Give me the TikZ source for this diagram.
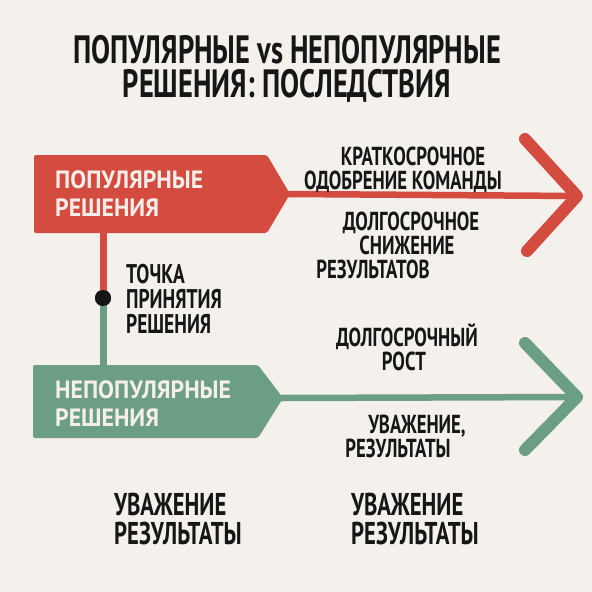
\documentclass[tikz,border=0pt]{standalone}
\usepackage{fontspec}
\setmainfont{PT Sans}
\newfontfamily\condfont[FakeStretch=0.72]{PT Sans}
\newfontfamily\boxfont[FakeStretch=0.95]{PT Sans}
\definecolor{bg}{HTML}{F4F0EB}
\definecolor{popred}{HTML}{D44B40}
\definecolor{unpgreen}{HTML}{6B9E83}
\definecolor{ink}{HTML}{161616}
\definecolor{boxtext}{HTML}{F6EEE9}
\tikzset{
  title/.style={font=\condfont\bfseries\fontsize{39.5}{32}\selectfont, text=ink, inner sep=0, anchor=base, text height=27pt, text depth=1pt},
  lbl/.style={font=\condfont\bfseries\fontsize{26}{24}\selectfont, text=ink, inner sep=0, anchor=base, text height=19pt, text depth=1.5pt},
  multi/.style={font=\condfont\bfseries\fontsize{#1}{#1}\selectfont, text=ink, inner sep=0, align=left, anchor=west},
  boxlbl/.style={font=\boxfont\bfseries\fontsize{25}{28}\selectfont, text=boxtext, align=left, anchor=west, inner sep=0},
  stem/.style={line width=7pt},
  shaft/.style={line width=6.5pt},
  chev/.style={line width=12pt, line cap=round, line join=round},
}
\begin{document}
\begin{tikzpicture}[x=1pt,y=-1pt]
\fill[bg] (0,0) rectangle (592,592);
\useasboundingbox (0,0) rectangle (592,592);
% title
\node[title] (t1) at (287,63) {ПОПУЛЯРНЫЕ vs НЕПОПУЛЯРНЫЕ};
\node[title] (t2) at (287,97) {РЕШЕНИЯ: ПОСЛЕДСТВИЯ};
% boxes
\fill[popred, rounded corners=2pt] (34,155) -- (267,155) -- (290,194) -- (267,233) -- (34,233) -- cycle;
\coordinate (ptip) at (288,194);
\coordinate (pbot) at (103,232);
\fill[unpgreen, rounded corners=2pt] (33,365) -- (258,365) -- (283,398) -- (258,438) -- (33,438) -- cycle;
\coordinate (utip) at (281,398);
\coordinate (utop) at (103,366);
\node[boxlbl] (pl) at (55,194) {ПОПУЛЯРНЫЕ\\РЕШЕНИЯ};
\node[boxlbl] (ul) at (55,404) {НЕПОПУЛЯРНЫЕ\\РЕШЕНИЯ};
% stem
\node[circle, fill=ink, minimum size=16pt, inner sep=0] (dp) at (103,298) {};
\draw[stem, popred] (pbot) -- (dp.center);
\draw[stem, unpgreen] (dp.center) -- (utop);
\node[circle, fill=ink, minimum size=16pt, inner sep=0] at (dp) {};
\node[multi=27, font=\condfont\bfseries\fontsize{27}{25}\selectfont] (dl) at (126,299) {ТОЧКА\\ПРИНЯТИЯ\\РЕШЕНИЯ};
% arrows
\coordinate (rend) at (577,196);
\coordinate (gend) at (577,397);
\draw[shaft, popred] (ptip) -- (rend);
\draw[chev, popred] (525,139) -- (rend) -- (527,251);
\draw[shaft, unpgreen] (utip) -- (gend);
\draw[chev, unpgreen] (525,343) -- (gend) -- (525,450);
% right labels (baselines)
\node[lbl] (r1) at (413,165) {КРАТКОСРОЧНОЕ};
\node[lbl] (r2) at (403,189) {ОДОБРЕНИЕ КОМАНДЫ};
\node[lbl] (r3) at (411,230) {ДОЛГОСРОЧНОЕ};
\node[lbl] (r4) at (407,254) {СНИЖЕНИЕ};
\node[lbl] (r5) at (373,278) {РЕЗУЛЬТАТОВ};
\node[lbl] (g1) at (407,346) {ДОЛГОСРОЧНЫЙ};
\node[lbl] (g2) at (404,370) {РОСТ};
\node[lbl] (g3) at (417,433) {УВАЖЕНИЕ,};
\node[lbl] (g4) at (398,457) {РЕЗУЛЬТАТЫ};
% bottom
\node[multi=31.5, font=\condfont\bfseries\fontsize{31.5}{29}\selectfont] (b1) at (114,519) {УВАЖЕНИЕ\\РЕЗУЛЬТАТЫ};
\node[multi=31.5, font=\condfont\bfseries\fontsize{31.5}{29}\selectfont] (b2) at (351,519) {УВАЖЕНИЕ\\РЕЗУЛЬТАТЫ};
\end{tikzpicture}
\end{document}
